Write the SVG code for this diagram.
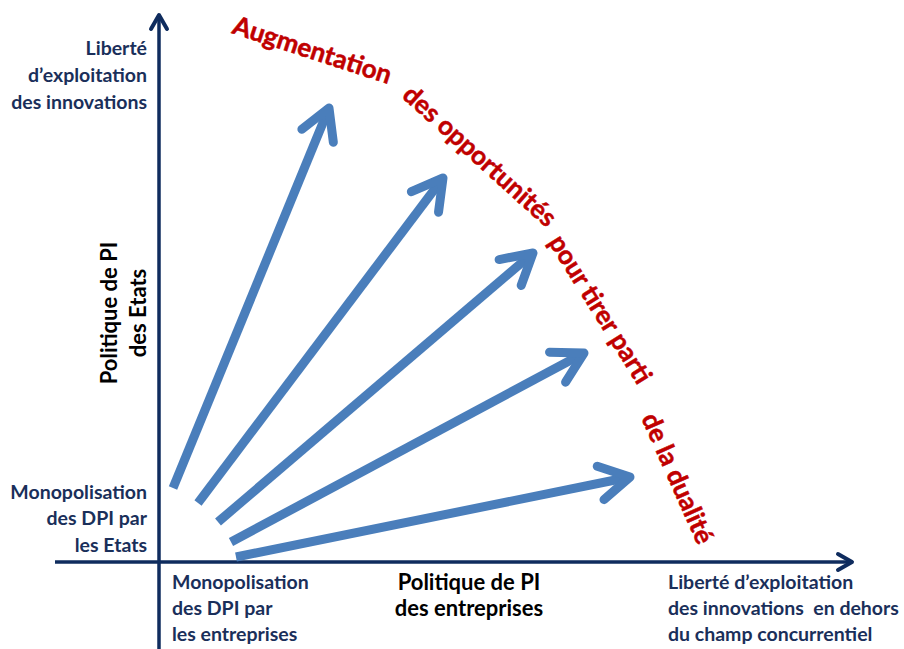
<svg xmlns="http://www.w3.org/2000/svg" width="904" height="649" viewBox="0 0 904 649">
  <style>
    .axis { stroke: #0f2c5e; stroke-width: 3.5; fill: none; }
    .axis-head { stroke: #0f2c5e; stroke-width: 4; fill: none; stroke-linecap: round; stroke-linejoin: round; }
    .ray { stroke: #4a7ebb; stroke-width: 9; fill: none; marker-end: url(#ray-head); }
    .lbl { font-family: Lato, "Open Sans", "Liberation Sans", sans-serif; font-weight: 700; font-size: 19.5px; fill: #1a2f5a; white-space: pre; }
    .title { font-family: Lato, "Open Sans", "Liberation Sans", sans-serif; font-weight: 700; font-size: 22px; fill: #000000; }
    .red { font-family: Lato, "Open Sans", "Liberation Sans", sans-serif; font-weight: 700; font-size: 26px; fill: #c00000; stroke: #c00000; stroke-width: 0.5; }
  </style>
  <defs>
    <marker id="ray-head" markerUnits="userSpaceOnUse" markerWidth="60" markerHeight="60" viewBox="-40 -30 50 60" refX="0" refY="0" orient="auto" overflow="visible">
      <path d="M-30,-17 L0,0 L-30,17" stroke="#4a7ebb" stroke-width="9" fill="none" stroke-linecap="round" stroke-linejoin="round"/>
    </marker>
  </defs>

  <rect width="904" height="649" fill="#ffffff"/>

  <!-- axes -->
  <g id="axes">
    <line class="axis" x1="159" y1="649" x2="159" y2="15"/>
    <polyline class="axis-head" points="151,29 159,15 167,29"/>
    <line class="axis" x1="55" y1="562" x2="851" y2="562"/>
    <polyline class="axis-head" points="838,554 852,562 838,570"/>
  </g>

  <!-- rays of increasing opportunity -->
  <g id="connectors">
    <line class="ray" x1="173" y1="488" x2="329" y2="108"/>
    <line class="ray" x1="198" y1="503" x2="443" y2="178"/>
    <line class="ray" x1="218" y1="522" x2="533" y2="253"/>
    <line class="ray" x1="231" y1="542" x2="584" y2="353"/>
    <line class="ray" x1="236" y1="557" x2="630" y2="477"/>
  </g>

  <!-- vertical axis labels -->
  <g id="y-top">
    <text class="lbl" text-anchor="end" x="147" y="55">Liberté</text>
    <text class="lbl" text-anchor="end" x="147" y="82">d’exploitation</text>
    <text class="lbl" text-anchor="end" x="147" y="109">des innovations</text>
  </g>
  <g id="y-bottom">
    <text class="lbl" text-anchor="end" x="147" y="499">Monopolisation</text>
    <text class="lbl" text-anchor="end" x="147" y="525">des DPI par</text>
    <text class="lbl" text-anchor="end" x="147" y="552">les Etats</text>
  </g>
  <g id="y-title">
    <text class="title" text-anchor="middle" transform="translate(117,313) rotate(-90)">Politique de PI</text>
    <text class="title" text-anchor="middle" transform="translate(146,313) rotate(-90)">des Etats</text>
  </g>

  <!-- horizontal axis labels -->
  <g id="x-left">
    <text class="lbl" x="172" y="589">Monopolisation</text>
    <text class="lbl" x="172" y="615">des DPI par</text>
    <text class="lbl" x="172" y="641">les entreprises</text>
  </g>
  <g id="x-title">
    <text class="title" text-anchor="middle" x="469" y="590">Politique de PI</text>
    <text class="title" text-anchor="middle" x="469" y="616">des entreprises</text>
  </g>
  <g id="x-right">
    <text class="lbl" x="668" y="589">Liberté d’exploitation</text>
    <text class="lbl" x="668" y="615">des innovations  en dehors</text>
    <text class="lbl" x="668" y="641">du champ concurrentiel</text>
  </g>

  <!-- curved caption -->
  <g id="caption">
    <text class="red" transform="translate(231,33) rotate(18)">Augmentation</text>
    <text class="red" transform="translate(401,97) rotate(42)">des opportunités</text>
    <text class="red" transform="translate(548,242) rotate(58)">pour tirer parti</text>
    <text class="red" transform="translate(641,418) rotate(66)">de la dualité</text>
  </g>
</svg>
